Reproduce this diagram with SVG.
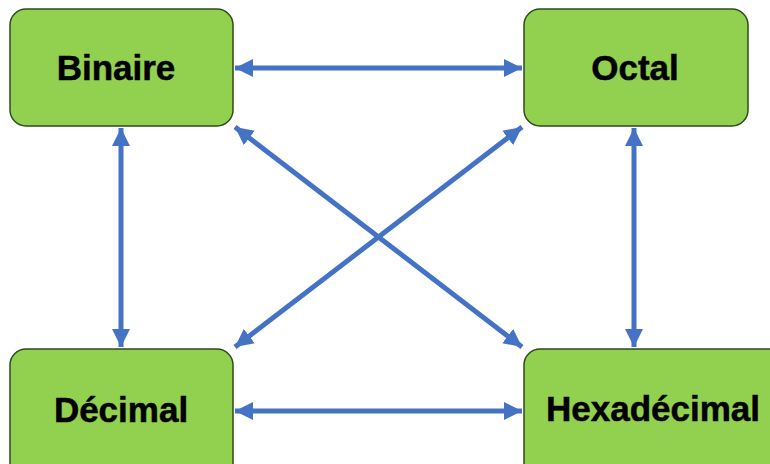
<svg xmlns="http://www.w3.org/2000/svg" width="770" height="464" viewBox="0 0 770 464">
<defs>
<marker id="ah" viewBox="0 0 10 10" refX="10" refY="5" markerWidth="3.6" markerHeight="3.8" orient="auto-start-reverse" markerUnits="strokeWidth">
<path d="M0,0 L10,5 L0,10 z" fill="#4472C4"/>
</marker>
<style>
.box{fill:#92D050;stroke:#2F4A1C;stroke-width:1.5}
.lbl{font-family:"Liberation Sans",Arial,sans-serif;font-weight:bold;font-size:35px;fill:#000;stroke:#000;stroke-width:0.5;text-anchor:middle}
.c{stroke:#4472C4;stroke-width:5;fill:none;marker-start:url(#ah);marker-end:url(#ah)}
</style>
</defs>
<rect width="770" height="464" fill="#fff"/>
<g id="binaire"><rect class="box" x="10" y="9" width="223" height="117" rx="16"/><text class="lbl" x="116" y="80">Binaire</text></g>
<g id="octal"><rect class="box" x="524" y="9" width="224" height="117" rx="16"/><text class="lbl" x="635" y="80">Octal</text></g>
<g id="decimal"><rect class="box" x="10" y="349" width="223" height="130" rx="16"/><text class="lbl" x="121" y="422">Décimal</text></g>
<g id="hexadecimal"><rect class="box" x="524" y="349" width="260" height="130" rx="16"/><text class="lbl" x="653" y="421">Hexadécimal</text></g>
<g id="connectors">
<line class="c" x1="235" y1="68" x2="522" y2="68"/>
<line class="c" x1="235" y1="411" x2="522" y2="411"/>
<line class="c" x1="121" y1="128" x2="121" y2="347"/>
<line class="c" x1="634" y1="128" x2="634" y2="347"/>
<line class="c" x1="235" y1="127" x2="522" y2="347"/>
<line class="c" x1="522" y1="127" x2="235" y2="347"/>
</g>
</svg>
